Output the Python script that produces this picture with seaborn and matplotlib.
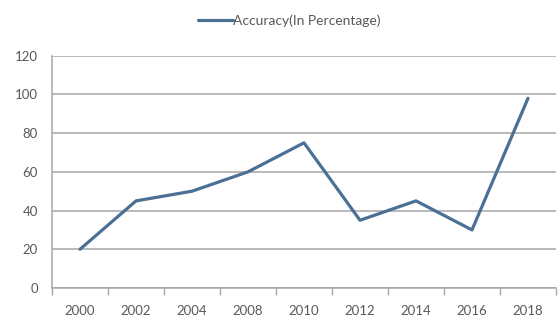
import matplotlib
matplotlib.use("Agg")
import matplotlib.pyplot as plt
import seaborn as sns
import pandas as pd
from matplotlib.ticker import FixedLocator

years = ["2000", "2002", "2004", "2008", "2010", "2012", "2014", "2016", "2018"]
accuracy = [20, 45, 50, 60, 75, 35, 45, 30, 98]
series_name = "Accuracy(In Percentage)"
y_ticks = [0, 20, 40, 60, 80, 100, 120]

sns.set_theme(style="white")
plt.rcParams["font.family"] = ["Lato", "DejaVu Sans"]

df = pd.DataFrame({"Year": years, "Accuracy": accuracy})

fig = plt.figure(figsize=(5.58, 3.22), dpi=100)
ax = fig.add_axes([52 / 558, 1 - 288 / 322, 504 / 558, (288 - 55.7) / 322])

line_color = "#4a7195"
grid_color = "#a6a6a6"
text_color = "#595959"

sns.lineplot(data=df, x="Year", y="Accuracy", ax=ax, color=line_color,
             linewidth=2.3, label=series_name, sort=False)

ax.set_xlim(-0.5, len(years) - 0.5)
ax.set_ylim(0, 120)
ax.set_yticks(y_ticks)
ax.yaxis.grid(True, color=grid_color, linewidth=1.1)
ax.set_axisbelow(True)
ax.set_xlabel("")
ax.set_ylabel("")

ax.set_xticks(range(len(years)))
ax.set_xticklabels(years)
ax.xaxis.set_minor_locator(FixedLocator([i - 0.5 for i in range(len(years) + 1)]))
ax.tick_params(axis="x", which="major", length=0, pad=12, labelsize=9.5, colors=text_color)
ax.tick_params(axis="x", which="minor", length=5, width=1, color=grid_color, direction="out")
ax.tick_params(axis="y", which="major", length=4, width=1, color=grid_color,
               direction="out", labelsize=9.5, labelcolor=text_color, pad=6)
ax.xaxis.set_tick_params(which="minor", bottom=True)

for s in ["top", "right"]:
    ax.spines[s].set_visible(False)
for s in ["left", "bottom"]:
    ax.spines[s].set_color(grid_color)
    ax.spines[s].set_linewidth(1.1)

ax.get_legend().remove()
fig.legend(handles=ax.get_lines()[:1], labels=[series_name], loc="center",
           bbox_to_anchor=(289 / 558, 1 - 21 / 322), frameon=False,
           fontsize=10, handlelength=2.5, handletextpad=0.0, labelcolor=text_color)

fig.savefig("out.png", dpi=100)
